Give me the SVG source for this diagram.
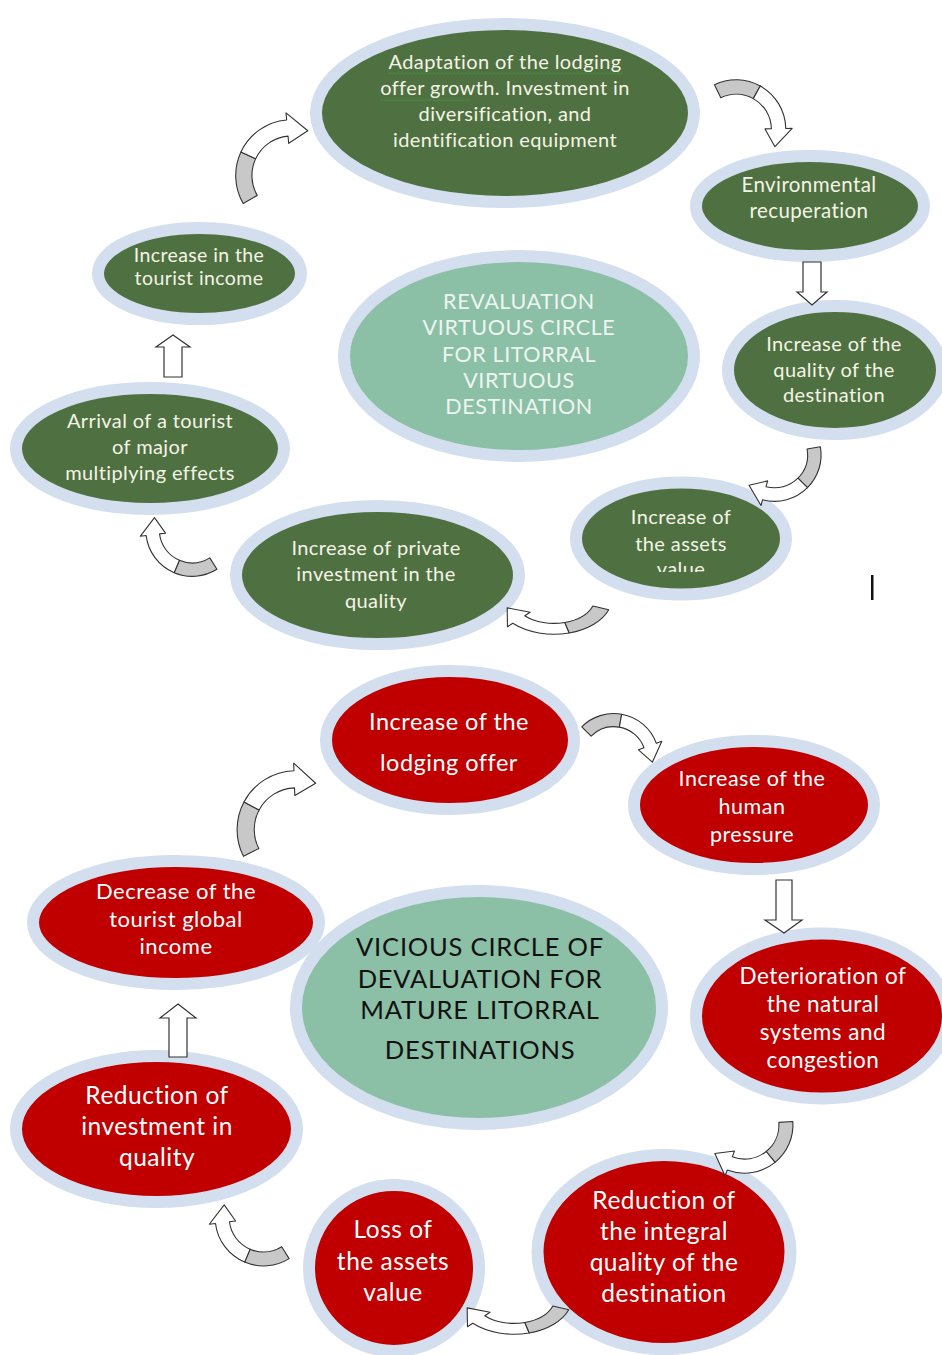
<svg xmlns="http://www.w3.org/2000/svg" xmlns:xlink="http://www.w3.org/1999/xlink" width="942" height="1355" viewBox="0 0 942 1355">
<style>
.ng{fill:#4F7041;stroke:#D3DEEE;stroke-width:12}
.nr{fill:#C00000;stroke:#D3DEEE;stroke-width:12}
.nc{fill:#8BBFA6;stroke:#D3DEEE;stroke-width:12}
text{font-family:Lato,"Open Sans","Liberation Sans",sans-serif;text-anchor:middle}
.tg{fill:#F4F4E6;font-size:20px;letter-spacing:0.4px}
.tc{fill:#EEF5F1;font-size:21.5px;letter-spacing:0.6px}
.tr{fill:#FFFFFF;font-size:23px;letter-spacing:0.5px}
.tv{fill:#111111;font-size:25.5px;letter-spacing:0.8px}
.cg{fill:#C8C8C8;stroke:#333;stroke-width:1.1;vector-effect:non-scaling-stroke;stroke-linejoin:round}
.cw{fill:#FFFFFF;stroke:#333;stroke-width:1.1;vector-effect:non-scaling-stroke;stroke-linejoin:round}
.ba{fill:#FFFFFF;stroke:#333;stroke-width:1.2;stroke-linejoin:miter}
</style>
<defs>
<g id="ca">
<path class="cg" d="M -53.69 31 A 62 62 0 0 1 -56.19 -26.2 L -39.88 -18.6 A 44 44 0 0 0 -38.1 22 Z"/>
<path class="cw" d="M -56.19 -26.2 A 62 62 0 0 1 -5.4 -61.76 L -6.1 -69.73 L 18.13 -49.8 L -3.14 -35.86 L -3.83 -43.83 A 44 44 0 0 0 -39.88 -18.6 Z"/>
</g>
<pattern id="sq" width="4" height="3" patternUnits="userSpaceOnUse">
<path d="M0 2.5 L2 0.5 L4 2.5" fill="none" stroke="#3E9A3E" stroke-width="0.8"/>
</pattern>
<clipPath id="clipv"><rect x="560" y="480" width="240" height="92"/></clipPath>
</defs>
<rect width="942" height="1355" fill="#FFFFFF"/>

<!-- Top cycle -->
<g id="n-adaptation">
<ellipse class="ng" cx="505" cy="113" rx="189" ry="89"/>
<rect x="388" y="72" width="235" height="3" fill="url(#sq)"/>
<rect x="380" y="98" width="90" height="3" fill="url(#sq)"/>
<text class="tg" x="505" y="69">Adaptation of the lodging</text>
<text class="tg" x="505" y="95">offer growth. Investment in</text>
<text class="tg" x="505" y="121">diversification, and</text>
<text class="tg" x="505" y="147">identification equipment</text>
</g>
<g id="n-environmental">
<ellipse class="ng" cx="810" cy="206" rx="114" ry="50"/>
<text class="tg" x="809" y="192" style="font-size:20.5px">Environmental</text>
<text class="tg" x="809" y="218" style="font-size:20.5px">recuperation</text>
</g>
<g id="n-quality">
<ellipse class="ng" cx="835" cy="370" rx="107" ry="64"/>
<text class="tg" x="834" y="351">Increase of the</text>
<text class="tg" x="834" y="377">quality of the</text>
<text class="tg" x="834" y="402">destination</text>
</g>
<g id="n-assets">
<ellipse class="ng" cx="681" cy="538.5" rx="105" ry="56"/>
<g clip-path="url(#clipv)">
<text class="tg" x="681" y="524">Increase of</text>
<text class="tg" x="681" y="551">the assets</text>
<text class="tg" x="681" y="576">value</text>
</g>
</g>
<g id="n-private">
<ellipse class="ng" cx="377.5" cy="575" rx="141.5" ry="69"/>
<text class="tg" x="376" y="555">Increase of private</text>
<text class="tg" x="376" y="581">investment in the</text>
<text class="tg" x="376" y="608">quality</text>
</g>
<g id="n-arrival">
<ellipse class="ng" cx="150" cy="448.5" rx="134" ry="60.5"/>
<text class="tg" x="150" y="428">Arrival of a tourist</text>
<text class="tg" x="150" y="454">of major</text>
<text class="tg" x="150" y="480">multiplying effects</text>
</g>
<g id="n-income">
<ellipse class="ng" cx="199.5" cy="273.5" rx="101.5" ry="45.5"/>
<text class="tg" x="199" y="262" style="font-size:19.5px">Increase in the</text>
<text class="tg" x="199" y="285" style="font-size:19.5px">tourist income</text>
</g>
<g id="n-revaluation">
<ellipse class="nc" cx="519" cy="356" rx="175" ry="100"/>
<text class="tc" x="519" y="309">REVALUATION</text>
<text class="tc" x="519" y="335">VIRTUOUS CIRCLE</text>
<text class="tc" x="519" y="362">FOR LITORRAL</text>
<text class="tc" x="519" y="388">VIRTUOUS</text>
<text class="tc" x="519" y="414">DESTINATION</text>
</g>
<rect x="871" y="575" width="2.5" height="25" fill="#111111"/>

<!-- Bottom cycle -->
<g id="n-lodging">
<ellipse class="nr" cx="450" cy="740" rx="124" ry="69"/>
<text class="tr" x="449" y="730" style="font-size:23.5px">Increase of the</text>
<text class="tr" x="449" y="771" style="font-size:23.5px">lodging offer</text>
</g>
<g id="n-human">
<ellipse class="nr" cx="754" cy="805" rx="120" ry="64"/>
<text class="tr" x="752" y="786" style="font-size:21.5px">Increase of the</text>
<text class="tr" x="752" y="814" style="font-size:21.5px">human</text>
<text class="tr" x="752" y="842" style="font-size:21.5px">pressure</text>
</g>
<g id="n-deterioration">
<ellipse class="nr" cx="822" cy="1016" rx="126" ry="82.5"/>
<text class="tr" x="823" y="984" style="font-size:22.5px">Deterioration of</text>
<text class="tr" x="823" y="1012" style="font-size:22.5px">the natural</text>
<text class="tr" x="823" y="1040" style="font-size:22.5px">systems and</text>
<text class="tr" x="823" y="1068" style="font-size:22.5px">congestion</text>
</g>
<g id="n-integral">
<ellipse class="nr" cx="664" cy="1252" rx="126.5" ry="97"/>
<text class="tr" x="664" y="1209" style="font-size:24.5px">Reduction of</text>
<text class="tr" x="664" y="1240" style="font-size:24.5px">the integral</text>
<text class="tr" x="664" y="1271" style="font-size:24.5px">quality of the</text>
<text class="tr" x="664" y="1302" style="font-size:24.5px">destination</text>
</g>
<g id="n-loss">
<ellipse class="nr" cx="394" cy="1268" rx="85" ry="83"/>
<text class="tr" x="393" y="1238" style="font-size:24.5px">Loss of</text>
<text class="tr" x="393" y="1270" style="font-size:24.5px">the assets</text>
<text class="tr" x="393" y="1301" style="font-size:24.5px">value</text>
</g>
<g id="n-reduction">
<ellipse class="nr" cx="156.5" cy="1129" rx="140.5" ry="73"/>
<text class="tr" x="157" y="1104" style="font-size:24.5px">Reduction of</text>
<text class="tr" x="157" y="1135" style="font-size:24.5px">investment in</text>
<text class="tr" x="157" y="1166" style="font-size:24.5px">quality</text>
</g>
<g id="n-decrease">
<ellipse class="nr" cx="176" cy="922.5" rx="143" ry="61.5"/>
<text class="tr" x="176" y="899" style="font-size:22px">Decrease of the</text>
<text class="tr" x="176" y="927" style="font-size:22px">tourist global</text>
<text class="tr" x="176" y="954" style="font-size:22px">income</text>
</g>
<g id="n-vicious">
<ellipse class="nc" cx="479" cy="1007.5" rx="183" ry="116.5"/>
<text class="tv" x="480" y="956">VICIOUS CIRCLE OF</text>
<text class="tv" x="480" y="988">DEVALUATION FOR</text>
<text class="tv" x="480" y="1019">MATURE LITORRAL</text>
<text class="tv" x="480" y="1059">DESTINATIONS</text>
</g>

<g id="connectors">
<use xlink:href="#ca" href="#ca" transform="translate(291.5,175.6) scale(0.9)"/>
<use xlink:href="#ca" href="#ca" transform="translate(736.2,129.4) rotate(94) scale(0.8)"/>
<path class="ba" d="M803 262 H821 V292 H827 L812 305 L797 292 H803 Z"/>
<use xlink:href="#ca" href="#ca" transform="translate(774.6,454.8) rotate(200) scale(0.75)"/>
<use xlink:href="#ca" href="#ca" transform="translate(554,597) scale(0.94,0.6) rotate(230)"/>
<use xlink:href="#ca" href="#ca" transform="translate(192.3,529.9) rotate(268) scale(0.75)"/>
<path class="ba" d="M173 335 L190 347 H182 V377 H164 V347 H156 Z"/>

<use xlink:href="#ca" href="#ca" transform="translate(613.8,758.8) rotate(75) scale(0.73)"/>
<path class="ba" d="M776 880 H792 V920 H802 L784 933 L765 920 H776 Z"/>
<use xlink:href="#ca" href="#ca" transform="translate(744.6,1124.8) rotate(206) scale(0.78)"/>
<use xlink:href="#ca" href="#ca" transform="translate(514,1297) scale(0.94,0.6) rotate(230)"/>
<use xlink:href="#ca" href="#ca" transform="translate(263.5,1217.6) rotate(268) scale(0.78)"/>
<path class="ba" d="M178 1004 L196 1018 H187 V1057 H169 V1018 H160 Z"/>
<use xlink:href="#ca" href="#ca" transform="translate(296,829.6) rotate(3) scale(0.95)"/>
</g>
</svg>
